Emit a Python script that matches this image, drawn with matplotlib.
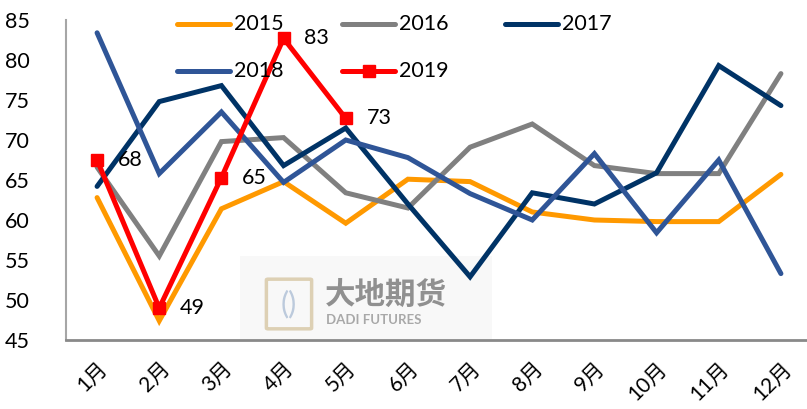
import matplotlib
matplotlib.use("Agg")
import matplotlib.pyplot as plt
import matplotlib.transforms as mtransforms
from matplotlib.patches import Rectangle, FancyBboxPatch
from matplotlib.lines import Line2D

months = ["1月", "2月", "3月", "4月", "5月", "6月", "7月", "8月", "9月", "10月", "11月", "12月"]
y2015 = [62.8, 47.4, 61.4, 64.8, 59.6, 65.1, 64.8, 61.0, 60.0, 59.8, 59.8, 65.7]
y2016 = [66.6, 55.5, 69.8, 70.3, 63.4, 61.5, 69.1, 72.0, 66.8, 65.8, 65.8, 78.3]
y2017 = [64.2, 74.8, 76.8, 66.8, 71.5, 62.0, 52.9, 63.4, 62.0, 65.9, 79.3, 74.3]
y2018 = [83.4, 65.8, 73.5, 64.7, 70.0, 67.8, 63.3, 60.0, 68.3, 58.4, 67.5, 53.3]
y2019 = [67.5, 49.0, 65.3, 82.7, 72.7]
labels2019 = ["68", "49", "65", "83", "73"]
series_names = ["2015", "2016", "2017", "2018", "2019"]
colors = ["#FF9900", "#808080", "#003366", "#2F5597", "#FF0000"]

W, H = 807, 409
fig = plt.figure(figsize=(W / 100, H / 100), dpi=100)
ax = fig.add_axes([66 / W, (H - 340) / H, 746 / W, 320 / H])
ax.set_zorder(2)
ax.set_facecolor("none")

FONT = ["Lato", "Noto Sans CJK SC", "DejaVu Sans"]
FS = 15.5


def fx(px):
    return px / W


def fy(py):
    return 1 - py / H


# watermark (behind the axes)
fig.patches.append(Rectangle((fx(240), fy(340)), 252 / W, 84 / H,
                             transform=fig.transFigure, facecolor="#f8f8f8",
                             edgecolor="none", zorder=0))
fig.patches.append(FancyBboxPatch((fx(268), fy(328)), 42 / W, 48 / H,
                                  boxstyle="round,pad=0.002", transform=fig.transFigure,
                                  facecolor="none", edgecolor="#ddd0b4", lw=2.5,
                                  zorder=0.5))
fig.text(fx(289), fy(304), "()", fontsize=22, color="#bccadc", ha="center",
         va="center", zorder=0.6, family=FONT)
fig.text(fx(325), fy(295), "大地期货", fontsize=22, color="#909090",
         ha="left", va="center", family=["Noto Sans CJK SC"], fontweight="bold", zorder=0.6)
fig.text(fx(326), fy(320), "DADI FUTURES", fontsize=9.5, color="#a8a8a8",
         ha="left", va="center", family=FONT, fontweight="bold", zorder=0.6)

x = list(range(len(months)))
lw = 3.6
kw = dict(lw=lw, solid_capstyle="round", solid_joinstyle="miter")
ax.plot(x, y2015, color=colors[0], **kw)
ax.plot(x, y2016, color=colors[1], **kw)
ax.plot(x, y2017, color=colors[2], **kw)
ax.plot(x, y2018, color=colors[3], **kw)
ax.plot(x[:len(y2019)], y2019, color=colors[4], marker="s", markersize=9, **kw)

for xi, yi, t in zip(x, y2019, labels2019):
    ax.annotate(t, (xi, yi), xytext=(15, 0), textcoords="offset points",
                ha="left", va="center", fontsize=FS, family=FONT, color="black")

ax.set_xlim(-0.5, 11.5)
ax.set_ylim(45, 85)
ax.set_yticks(range(45, 86, 5))
ax.set_xticks(x)
ax.set_xticklabels(months, rotation=45, ha="right", va="top", rotation_mode="anchor",
                   fontsize=FS - 0.5, family=FONT)
shift = mtransforms.ScaledTranslation(-5 / 100, 0, fig.dpi_scale_trans)
for lab in ax.get_xticklabels():
    lab.set_transform(lab.get_transform() + shift)
for lab in ax.get_yticklabels():
    lab.set_fontsize(FS)
    lab.set_family(FONT)
ax.tick_params(axis="both", length=0)
ax.tick_params(axis="y", pad=26)
ax.tick_params(axis="x", pad=13)
for s in ["top", "right"]:
    ax.spines[s].set_visible(False)
ax.spines["left"].set_color("#a6a6a6")
ax.spines["left"].set_linewidth(1.5)
ax.spines["bottom"].set_color("#898989")
ax.spines["bottom"].set_linewidth(2.0)

# legend drawn by hand at the reference positions
leg_pos = [(177, 24), (342, 24), (505, 24), (177, 71), (342, 71)]
for (px, py), name, c in zip(leg_pos, series_names, colors):
    fig.add_artist(Line2D([fx(px), fx(px + 53)], [fy(py), fy(py)], color=c, lw=lw,
                          solid_capstyle="round", transform=fig.transFigure, zorder=3))
    if name == "2019":
        fig.add_artist(Line2D([fx(px + 26.5)], [fy(py)], color=c, marker="s",
                              markersize=9, transform=fig.transFigure, zorder=3))
    fig.text(fx(px + 57), fy(py), name, fontsize=FS, family=FONT, ha="left",
             va="center", color="black", zorder=3)

fig.savefig("out.png", dpi=100)
